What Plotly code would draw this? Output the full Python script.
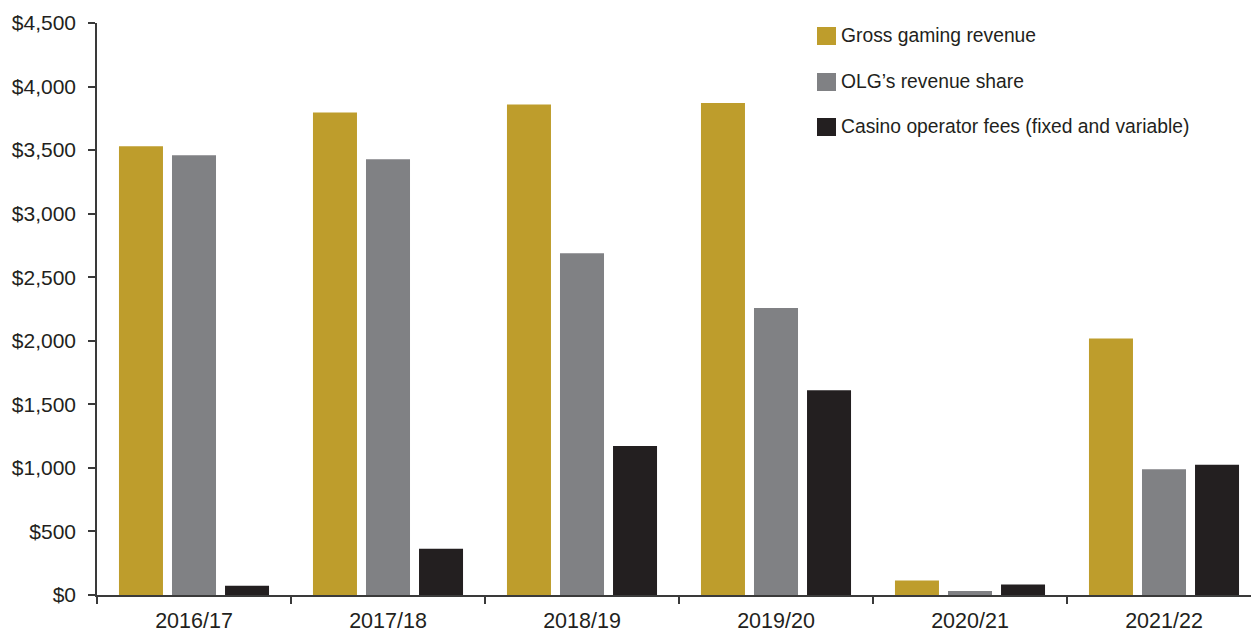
import plotly.graph_objects as go

# Fiscal years and values ($ millions)
years = ["2016/17", "2017/18", "2018/19", "2019/20", "2020/21", "2021/22"]
gross_gaming_revenue = [3531, 3796, 3859, 3871, 115, 2017]
olg_revenue_share = [3460, 3429, 2688, 2258, 31, 990]
operator_fees = [73, 364, 1173, 1611, 83, 1024]

series_names = [
    "Gross gaming revenue",
    "OLG’s revenue share",
    "Casino operator fees (fixed and variable)",
]
series_values = [gross_gaming_revenue, olg_revenue_share, operator_fees]
series_colors = ["#BE9D2C", "#808184", "#231F20"]

y_ticks = [0, 500, 1000, 1500, 2000, 2500, 3000, 3500, 4000, 4500]
y_tick_labels = ["${:,}".format(v) for v in y_ticks]

W, H = 1251, 634
ML, MR, MT, MB = 97, 0, 23, 39
PW, PH = W - ML - MR, H - MT - MB
CAT_PX = 194  # width of one year slot

fig = go.Figure()
for name, vals, col in zip(series_names, series_values, series_colors):
    fig.add_trace(go.Bar(
        x=years, y=vals, name=name,
        marker=dict(color=col, line=dict(width=0)),
        showlegend=False,
    ))

# Legend drawn as swatches + labels in the upper right
def px_x(px):
    return (px - ML) / PW

def px_y(py):
    return (H - MB - py) / PH

legend_rows = [36, 82, 127]
shapes = []
annotations = []
for name, col, cy in zip(series_names, series_colors, legend_rows):
    shapes.append(dict(
        type="rect", xref="paper", yref="paper",
        x0=px_x(817), x1=px_x(836), y0=px_y(cy + 9), y1=px_y(cy - 9),
        fillcolor=col, line=dict(width=0),
    ))
    annotations.append(dict(
        xref="paper", yref="paper", x=px_x(839), y=px_y(cy),
        xanchor="left", yanchor="middle", showarrow=False, text=name,
        font=dict(family="Liberation Sans, Arial", size=19.3, color="#231F20"),
    ))

axis_color = "#3a3a3a"
fig.update_layout(
    width=W, height=H,
    margin=dict(l=ML, r=MR, t=MT, b=MB, pad=0, autoexpand=False),
    plot_bgcolor="white", paper_bgcolor="white",
    barmode="group", bargap=0.18, bargroupgap=0.17,
    shapes=shapes, annotations=annotations,
    xaxis=dict(
        type="category",
        range=[-0.5, -0.5 + PW / CAT_PX],
        tickson="boundaries",
        ticks="outside", ticklen=7, tickwidth=1.5, tickcolor=axis_color,
        showline=True, linecolor=axis_color, linewidth=1.5,
        showgrid=False, zeroline=False, automargin=False,
        tickfont=dict(family="Liberation Sans, Arial", size=21.5, color="#231F20"),
        ticklabelstandoff=5,
    ),
    yaxis=dict(
        range=[0, 4500],
        tickvals=y_ticks,
        ticktext=y_tick_labels,
        ticks="outside", ticklen=7, tickwidth=1.5, tickcolor=axis_color,
        showline=True, linecolor=axis_color, linewidth=1.5,
        showgrid=False, zeroline=False, automargin=False,
        tickfont=dict(family="Liberation Sans, Arial", size=21, color="#231F20"),
        ticklabelstandoff=8,
    ),
)

fig.write_html("out.html")
